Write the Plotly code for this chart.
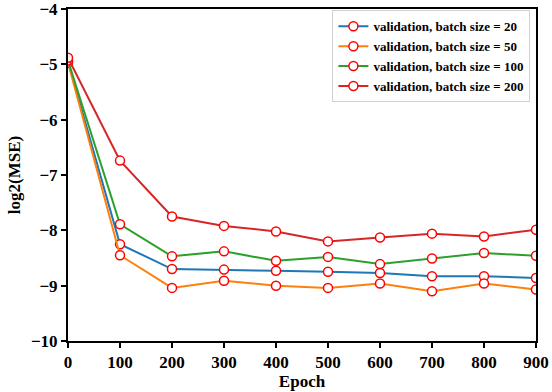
import plotly.graph_objects as go

epochs = [0, 100, 200, 300, 400, 500, 600, 700, 800, 900]
bs20 = [-4.95, -8.25, -8.70, -8.71, -8.73, -8.75, -8.77, -8.83, -8.83, -8.86]
bs50 = [-4.97, -8.45, -9.04, -8.91, -9.00, -9.04, -8.96, -9.10, -8.96, -9.07]
bs100 = [-4.93, -7.89, -8.47, -8.38, -8.55, -8.48, -8.61, -8.51, -8.41, -8.46]
bs200 = [-4.88, -6.74, -7.75, -7.92, -8.02, -8.20, -8.13, -8.06, -8.11, -7.99]

names = ["validation, batch size = 20", "validation, batch size = 50",
         "validation, batch size = 100", "validation, batch size = 200"]
colors = ["#1f77b4", "#ff7f0e", "#2ca02c", "#d62728"]
series = [bs20, bs50, bs100, bs200]

fig = go.Figure()
for name, col, ys in zip(names, colors, series):
    fig.add_trace(go.Scatter(
        x=epochs, y=ys, name=name, mode="lines+markers",
        line=dict(color=col, width=2),
        marker=dict(symbol="circle", size=9, color="white",
                    line=dict(color="red", width=1.5)),
    ))

font_family = "Liberation Serif"
fig.update_layout(
    width=552, height=392,
    margin=dict(l=68, r=16, t=9, b=51, autoexpand=False),
    paper_bgcolor="white", plot_bgcolor="white",
    font=dict(family=font_family, color="black"),
    showlegend=True,
    legend=dict(
        x=0.988, y=0.996, xanchor="right", yanchor="top",
        bgcolor="white", bordercolor="#d0d0d0", borderwidth=1,
        font=dict(family=font_family, size=13, color="black", weight="bold"),
        tracegroupgap=0, itemwidth=30,
    ),
    xaxis=dict(
        range=[0, 900], tickvals=epochs, ticktext=[str(e) for e in epochs],
        showgrid=False, zeroline=False, automargin=False,
        showline=True, linecolor="black", linewidth=2, mirror=True,
        ticks="outside", ticklen=5, tickwidth=1.5, tickcolor="black",
        ticklabeloverflow="allow",
        tickfont=dict(family=font_family, size=17, weight="bold"),
        title=dict(text="Epoch", font=dict(family=font_family, size=17, weight="bold"), standoff=0),
    ),
    yaxis=dict(
        range=[-10, -4], tickvals=[-10, -9, -8, -7, -6, -5, -4],
        showgrid=False, zeroline=False, automargin=False,
        showline=True, linecolor="black", linewidth=2, mirror=True,
        ticks="outside", ticklen=5, tickwidth=1.5, tickcolor="black",
        ticklabeloverflow="allow",
        tickfont=dict(family=font_family, size=17, weight="bold"),
        title=dict(text="log2(MSE)", font=dict(family=font_family, size=17, weight="bold"), standoff=6),
    ),
)

fig.write_html("out.html", config={"displayModeBar": False},
               post_script="document.body.style.margin='0';document.body.style.overflow='hidden';")
